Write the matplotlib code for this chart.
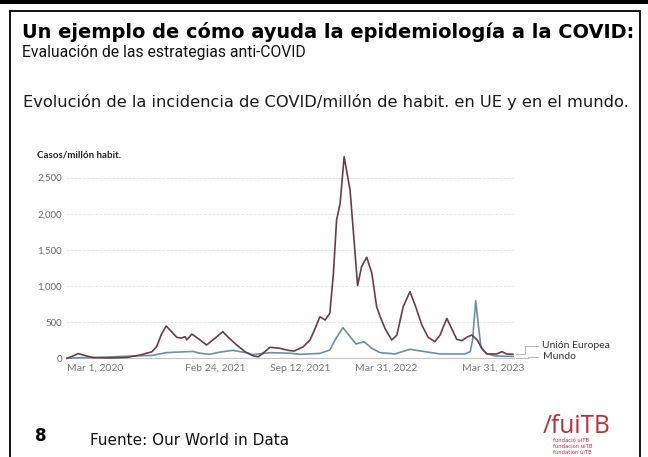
import matplotlib
matplotlib.use("Agg")
import matplotlib.pyplot as plt
from matplotlib import font_manager
from matplotlib.lines import Line2D
from matplotlib.patches import Rectangle
import pandas as pd

# ---------------- data ----------------
eu_dates = ["2020-03-01", "2020-03-15", "2020-03-29", "2020-04-15", "2020-05-05", "2020-06-15",
            "2020-07-30", "2020-09-01", "2020-10-01", "2020-10-13", "2020-10-25", "2020-11-06",
            "2020-11-16", "2020-12-03", "2020-12-15", "2020-12-24", "2020-12-28", "2021-01-10",
            "2021-01-25", "2021-02-16", "2021-03-09", "2021-03-29", "2021-04-12", "2021-05-03",
            "2021-05-24", "2021-06-14", "2021-06-27", "2021-07-13", "2021-07-26", "2021-08-20",
            "2021-09-10", "2021-09-25", "2021-10-18", "2021-11-04", "2021-11-17", "2021-11-29",
            "2021-12-12", "2021-12-24", "2022-01-02", "2022-01-10", "2022-01-19", "2022-01-29",
            "2022-02-13", "2022-02-23", "2022-03-04", "2022-03-14", "2022-03-27", "2022-04-09",
            "2022-04-21", "2022-04-30", "2022-05-12", "2022-05-29", "2022-06-11", "2022-06-27",
            "2022-07-14", "2022-07-27", "2022-08-13", "2022-08-29", "2022-09-15", "2022-09-28",
            "2022-10-15", "2022-10-27", "2022-11-09", "2022-11-22", "2022-12-04", "2022-12-17",
            "2022-12-31", "2023-01-11", "2023-01-24", "2023-02-18", "2023-03-03", "2023-03-15",
            "2023-03-31"]
eu_values = [0, 30, 65, 40, 10, 5,
             12, 45, 90, 160, 330, 447,
             390, 290, 280, 300, 255, 336,
             277, 184, 277, 368, 290, 184,
             92, 32, 22, 92, 152, 138,
             110, 100, 160, 253, 415, 576,
             530, 623, 1176, 1914, 2145, 2790,
             2329, 1637, 1005, 1268, 1398, 1176,
             714, 576, 415, 253, 320, 714,
             922, 738, 461, 290, 230, 322,
             553, 415, 263, 244, 290, 322,
             253, 138, 60, 60, 92, 60,
             55]

world_dates = ["2020-03-01", "2020-03-29", "2020-05-15", "2020-08-07", "2020-10-01", "2020-11-07",
               "2020-12-01", "2021-01-13", "2021-01-30", "2021-02-24", "2021-03-21", "2021-04-23",
               "2021-05-24", "2021-06-13", "2021-07-26", "2021-09-15", "2021-10-10", "2021-11-29",
               "2021-12-24", "2022-01-06", "2022-01-26", "2022-02-13", "2022-02-28", "2022-03-20",
               "2022-04-09", "2022-04-30", "2022-06-06", "2022-07-14", "2022-08-21", "2022-09-28",
               "2022-11-30", "2022-12-13", "2022-12-19", "2022-12-27", "2023-01-03", "2023-01-09",
               "2023-01-22", "2023-02-14", "2023-03-31"]
world_values = [0, 8, 12, 30, 40, 78,
                85, 95, 70, 55, 85, 110,
                80, 50, 78, 70, 55, 68,
                115, 253, 424, 300, 198, 230,
                138, 78, 60, 124, 92, 60,
                60, 92, 253, 800, 438, 160,
                68, 32, 25]

series_names = ["Unión Europea", "Mundo"]
y_ticks = [0, 500, 1000, 1500, 2000, 2500]
x_tick_labels = ["Mar 1, 2020", "Feb 24, 2021", "Sep 12, 2021", "Mar 31, 2022", "Mar 31, 2023"]
x_tick_pos = ["2020-05-12", "2021-03-09", "2021-10-10", "2022-05-14", "2023-02-08"]

# ---------------- figure ----------------
W, H = 648, 457
fig = plt.figure(figsize=(W / 100, H / 100), dpi=100)
fig.patch.set_facecolor("white")

def fx(px):
    return px / W

def fy(py):
    return 1 - py / H

installed = {f.name for f in font_manager.fontManager.ttflist}
narrow_font = "Liberation Sans Narrow" if "Liberation Sans Narrow" in installed else "Roboto"

# slide decorations
fig.patches.append(Rectangle((0, fy(4)), 1, 4 / H, transform=fig.transFigure,
                             facecolor="black", edgecolor="none"))
fig.patches.append(Rectangle((fx(10), fy(470)), fx(640) - fx(10), fy(11) - fy(470),
                             transform=fig.transFigure, facecolor="none",
                             edgecolor="black", linewidth=1.3))

# ---------------- axes ----------------
ax = fig.add_axes([fx(66), fy(358.3), fx(514) - fx(66), fy(150) - fy(358.3)])
ax.set_facecolor("white")

eu_x = pd.to_datetime(eu_dates)
w_x = pd.to_datetime(world_dates)
EU_COL = "#6b3b48"
W_COL = "#6b8fa5"
ax.plot(w_x, world_values, color=W_COL, lw=1.2, clip_on=False, zorder=3,
        solid_joinstyle="round")
ax.plot(eu_x, eu_values, color=EU_COL, lw=1.2, clip_on=False, zorder=4,
        solid_joinstyle="round")

x0 = pd.Timestamp("2020-03-01") - pd.Timedelta(days=2.5)
x1 = pd.Timestamp("2023-03-31") + pd.Timedelta(days=2.5)
ax.set_xlim(x0, x1)
ax.set_ylim(0, 2883)

ax.set_yticks(y_ticks)
ax.set_yticklabels([f"{v:,}" for v in y_ticks], fontsize=7, color="#666666", family="Lato")
ax.yaxis.grid(True, color="#dedede", linestyle=(0, (3, 2)), linewidth=0.6)
ax.set_axisbelow(True)
ax.tick_params(axis="y", length=0, pad=3)

ax.set_xticks(pd.to_datetime(x_tick_pos))
ax.set_xticklabels(x_tick_labels, fontsize=7.5, color="#777777", family="Lato")
ax.tick_params(axis="x", length=0, pad=4)

for s in ["top", "right", "left"]:
    ax.spines[s].set_visible(False)
ax.spines["bottom"].set_color("#c4c4c4")
ax.spines["bottom"].set_linewidth(0.8)

fig.text(fx(37), fy(158), "Casos/millón habit.", fontsize=7, fontweight="bold",
         family="Lato", color="#222222", va="baseline", ha="left")

# legend connectors and labels
conn_col = "#aaaaaa"
fig.lines.append(Line2D([fx(516), fx(525), fx(525), fx(538)],
                        [fy(353.5), fy(353.5), fy(345.7), fy(345.7)],
                        transform=fig.transFigure, color=conn_col, lw=0.6))
fig.lines.append(Line2D([fx(516), fx(528), fx(528), fx(538)],
                        [fy(358.3), fy(358.3), fy(356.7), fy(356.7)],
                        transform=fig.transFigure, color=conn_col, lw=0.6))
fig.text(fx(542.5), fy(345.7), series_names[0], fontsize=7.5, family="Lato",
         color="#333333", va="center", ha="left")
fig.text(fx(542.5), fy(356.7), series_names[1], fontsize=7.5, family="Lato",
         color="#333333", va="center", ha="left")

# ---------------- slide texts ----------------
t_title = fig.text(fx(22), fy(38), "Un ejemplo de cómo ayuda la epidemiología a la COVID:",
                   fontsize=13, fontweight="bold", family="DejaVu Sans", color="black",
                   va="baseline", ha="left")
t_sub = fig.text(fx(22), fy(57), "Evaluación de las estrategias anti-COVID",
                 fontsize=11, family=narrow_font, color="#111111", va="baseline", ha="left")
t_evo = fig.text(fx(23), fy(107), "Evolución de la incidencia de COVID/millón de habit. en UE y en el mundo.",
                 fontsize=10, family="DejaVu Sans", color="#1a1a1a", va="baseline", ha="left")
t_num = fig.text(fx(35), fy(441), "8", fontsize=12, fontweight="bold", family="DejaVu Sans",
                 color="black", va="baseline", ha="left")
t_src = fig.text(fx(90), fy(445), "Fuente: Our World in Data", fontsize=10,
                 family="DejaVu Sans", color="#111111", va="baseline", ha="left")
LOGO = "#b5303a"
t_logo = fig.text(fx(543), fy(433), "/fuiTB", fontsize=16, family="Open Sans",
                  color=LOGO, va="baseline", ha="left")
for i, s in enumerate(["fundació uiTB", "fundación uiTB", "fundation uiTB"]):
    fig.text(fx(553), fy(442 + 6 * i), s, fontsize=3.8, family="DejaVu Sans", color=LOGO,
             va="baseline", ha="left")

# fit the slide texts to their widths in the reference
fig.canvas.draw()
renderer = fig.canvas.get_renderer()
for t, target in [(t_title, 606), (t_sub, 283), (t_evo, 603), (t_src, 198), (t_logo, 68)]:
    w = t.get_window_extent(renderer).width
    t.set_fontsize(t.get_fontsize() * target / w)

fig.savefig("out.png", dpi=100)
